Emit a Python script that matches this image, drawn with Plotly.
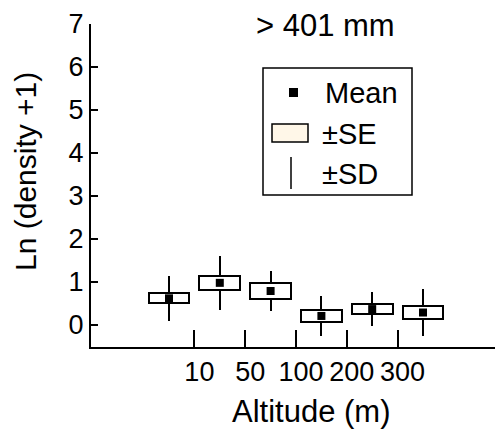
import plotly.graph_objects as go

# Altitude classes (six sampling groups) and the labels shown on the axis
groups = [0, 1, 2, 3, 4, 5]
tick_pos = [0.5, 1.5, 2.5, 3.5, 4.5]
tick_labels = ["10", "50", "100", "200", "300"]

# Ln(density + 1): mean, standard error and standard deviation per group
mean = [0.62, 0.98, 0.79, 0.21, 0.37, 0.29]
se = [0.12, 0.16, 0.18, 0.15, 0.12, 0.145]
sd = [0.52, 0.63, 0.47, 0.47, 0.39, 0.55]

W, H = 495, 436
L, R, T, B = 91, 0, 24, 89
PW, PH = W - L - R, H - T - B
FONT = "Arial, Liberation Sans, sans-serif"


def px(x):
    return (x - L) / PW


def py(y):
    return (H - B - y) / PH


def label(text, x, y, size, xanchor="center", angle=0):
    return dict(text=text, x=px(x), y=py(y), xref="paper", yref="paper",
                xanchor=xanchor, yanchor="middle", textangle=angle,
                showarrow=False,
                font=dict(size=size, color="black", family=FONT))


fig = go.Figure()

# ±SD whiskers (thin black bars, drawn first so the boxes sit on top)
fig.add_trace(go.Bar(
    x=groups, base=[m - s for m, s in zip(mean, sd)], y=[2 * s for s in sd],
    width=0.04, marker=dict(color="black", line=dict(width=0)),
    showlegend=False, hoverinfo="skip",
))
# ±SE boxes
fig.add_trace(go.Bar(
    x=groups, base=[m - s for m, s in zip(mean, se)], y=[2 * s for s in se],
    width=0.8, marker=dict(color="white", line=dict(color="black", width=2)),
    showlegend=False, hoverinfo="skip",
))
# Means
fig.add_trace(go.Scatter(
    x=groups, y=mean, mode="markers",
    marker=dict(symbol="square", size=8, color="black"),
    showlegend=False, hoverinfo="skip",
))

shapes = [
    # key frame
    dict(type="rect", xref="paper", yref="paper",
         x0=px(263), x1=px(412), y0=py(195), y1=py(68),
         line=dict(color="black", width=1.5), fillcolor="white"),
    # mean symbol
    dict(type="rect", xref="paper", yref="paper",
         x0=px(289), x1=px(298), y0=py(97), y1=py(88),
         line=dict(width=0), fillcolor="black"),
    # SE swatch
    dict(type="rect", xref="paper", yref="paper",
         x0=px(272), x1=px(308), y0=py(142), y1=py(124),
         line=dict(color="black", width=1.5), fillcolor="#FFF7E8"),
    # SD line
    dict(type="line", xref="paper", yref="paper",
         x0=px(291), x1=px(291), y0=py(189), y1=py(157),
         line=dict(color="black", width=1.5)),
]

annotations = [
    label("> 401 mm", 325, 26, 31),
    label("Mean", 323, 93, 29, xanchor="left"),
    label("±SE", 320, 134, 29, xanchor="left"),
    label("±SD", 320, 174, 29, xanchor="left"),
    label("Altitude (m)", 311, 411, 31),
    label("Ln (density +1)", 25, 172, 30, angle=-90),
]

fig.update_layout(
    width=W, height=H,
    margin=dict(l=L, r=R, t=T, b=B, pad=0),
    paper_bgcolor="white", plot_bgcolor="white",
    barmode="overlay", bargap=0,
    shapes=shapes, annotations=annotations,
    font=dict(family=FONT, size=27, color="black"),
)
fig.update_xaxes(
    range=[-1.535, 6.417], tickvals=tick_pos, ticktext=tick_labels,
    ticks="inside", ticklen=17, tickwidth=2, tickcolor="black",
    ticklabelshift=5,
    showline=True, linecolor="black", linewidth=2,
    showgrid=False, zeroline=False, fixedrange=True,
    tickfont=dict(size=27),
)
fig.update_yaxes(
    range=[-0.512, 7], tickvals=list(range(8)),
    ticks="inside", ticklen=7, tickwidth=1.5, tickcolor="black",
    showline=True, linecolor="black", linewidth=2,
    showgrid=False, zeroline=False, fixedrange=True,
    tickfont=dict(size=27),
)

fig.write_html("out.html")
